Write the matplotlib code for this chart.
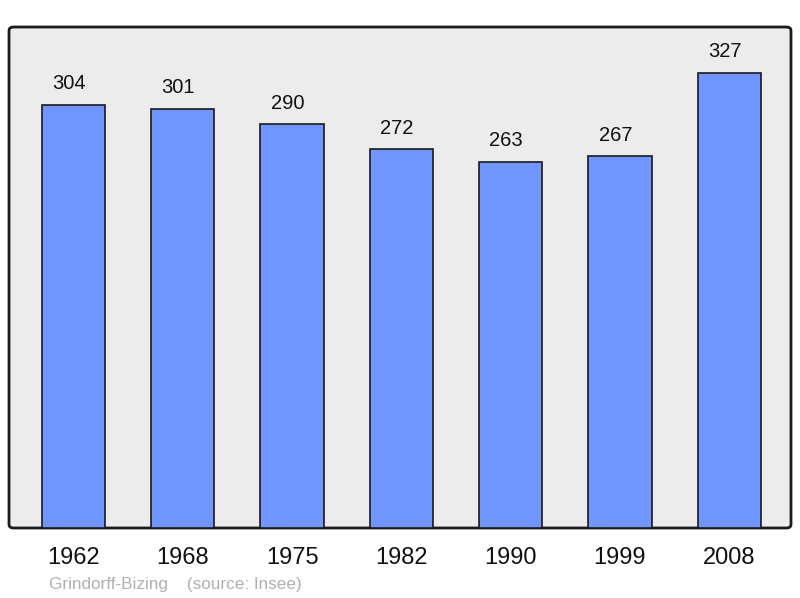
import matplotlib
matplotlib.use("Agg")
import matplotlib.pyplot as plt
from matplotlib.patches import FancyBboxPatch

years = ["1962", "1968", "1975", "1982", "1990", "1999", "2008"]
population = [304, 301, 290, 272, 263, 267, 327]

plt.rcParams['font.family'] = ['Liberation Sans', 'DejaVu Sans']

W, H = 800, 598
fig = plt.figure(figsize=(8.0, 5.98), dpi=100)
ax = fig.add_axes([9 / W, 1 - 528 / H, (791 - 9) / W, (528 - 27) / H])
ax.set_facecolor('none')
ax.set_zorder(2)
for s in ax.spines.values():
    s.set_visible(False)

# rounded grey frame behind the plot
frame = FancyBboxPatch((9 / W, 1 - 528 / H), (791 - 9) / W, (528 - 27) / H,
                       boxstyle="round,pad=0,rounding_size=0.006",
                       transform=fig.transFigure, facecolor='#ececec',
                       edgecolor='#1a1a1a', linewidth=2, zorder=0)
fig.patches.append(frame)

x = list(range(len(years)))
ax.bar(x, population, width=0.578, color='#7095ff', edgecolor='#1a1a1a',
       linewidth=1.2, zorder=2)
for xi, v in zip(x, population):
    ax.text(xi - 0.04, v + 8.5, str(v), ha='center', va='bottom', fontsize=14.5,
            color='#111111')

ax.set_xlim(-0.59, 6.565)
ax.set_ylim(0, 360)
ax.set_yticks([])
ax.set_xticks(x)
ax.set_xticklabels(years, fontsize=17, color='#111111')
ax.tick_params(axis='x', length=0, pad=13.5)

fig.text(49 / W, 1 - 584 / H, "Grindorff-Bizing    (source: Insee)",
         fontsize=12.3, color='#b0b0b0', va='center', ha='left')

fig.savefig("out.png", dpi=100)
